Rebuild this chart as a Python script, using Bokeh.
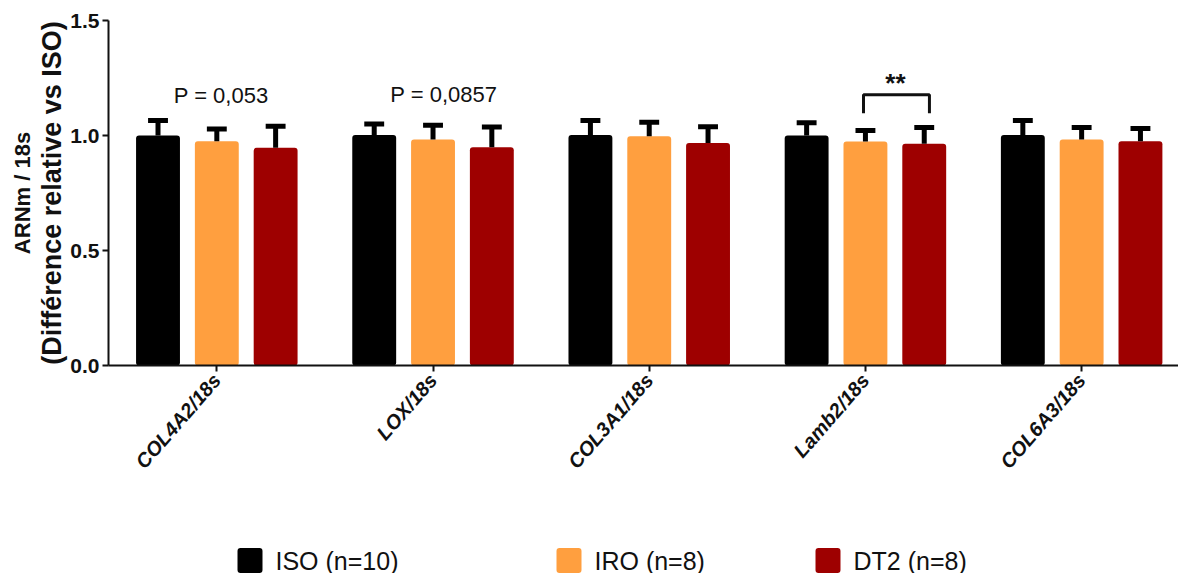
import math
from bokeh.plotting import figure
from bokeh.layouts import column
from bokeh.models import ColumnDataSource, FixedTicker, LinearAxis, Range1d
from bokeh.core.properties import value
from bokeh.embed import file_html
from bokeh.resources import INLINE

# ---------------- data ----------------
categories = ["COL4A2/18s", "LOX/18s", "COL3A1/18s", "Lamb2/18s", "COL6A3/18s"]
groups = ["ISO (n=10)", "IRO (n=8)", "DT2 (n=8)"]
iso_mean = [1.000, 1.002, 1.002, 1.000, 1.002]
iso_upper = [1.065, 1.050, 1.065, 1.055, 1.065]
iro_mean = [0.975, 0.983, 0.997, 0.974, 0.983]
iro_upper = [1.028, 1.045, 1.058, 1.022, 1.035]
dt2_mean = [0.947, 0.949, 0.967, 0.964, 0.975]
dt2_upper = [1.040, 1.037, 1.038, 1.035, 1.030]
colors = ["#000000", "#FF9F3F", "#9E0000"]
y_ticks = [0.0, 0.5, 1.0, 1.5]
p_texts = ["P = 0,053", "P = 0,0857"]
p_cats = [0, 1]
star_text = "**"
star_cat = 3

# ---------------- layout / style ----------------
FONT = "Liberation Sans"
INK = "#111111"
offsets = [-0.272, 0.0, 0.272]
bar_w = 0.203
cap_half = 0.046
W = 1178
LEFT = 108
MAIN_H = 523
LEG_H = 50

p = figure(width=W, height=MAIN_H, output_backend="svg", toolbar_location=None,
           x_range=Range1d(-0.501, 4.448), y_range=Range1d(0, 1.5),
           min_border_left=LEFT, min_border_right=0, min_border_top=20,
           min_border_bottom=MAIN_H - 365)
p.outline_line_color = None
p.xgrid.grid_line_color = None
p.ygrid.grid_line_color = None

means = [iso_mean, iro_mean, dt2_mean]
uppers = [iso_upper, iro_upper, dt2_upper]
for m, u, c, off in zip(means, uppers, colors, offsets):
    xs = [i + off for i in range(len(categories))]
    src = ColumnDataSource(dict(x=xs, top=m, upper=u,
                                xl=[x - cap_half for x in xs],
                                xr=[x + cap_half for x in xs]))
    p.vbar(x="x", top="top", width=bar_w, bottom=0, source=src,
           fill_color=c, line_color=None, border_radius=3)
    p.segment(x0="x", y0="top", x1="x", y1="upper", source=src,
              line_color="black", line_width=5, line_cap="butt")
    p.segment(x0="xl", y0="upper", x1="xr", y1="upper", source=src,
              line_color="black", line_width=5, line_cap="butt")

# P-value annotations
p_src = ColumnDataSource(dict(x=[p_cats[0] + 0.02, p_cats[1] + 0.05],
                              y=[1.174, 1.178], t=p_texts))
p.text(x="x", y="y", text="t", source=p_src, text_align="center",
       text_baseline="middle", text_font=value(FONT),
       text_font_size="22px", text_color=INK)

# significance bracket
bl = star_cat - 0.009
br = star_cat + 0.296
p.line(x=[bl, bl, br, br], y=[1.097, 1.177, 1.177, 1.097],
       line_color=INK, line_width=3)
p.text(x=[star_cat + 0.139], y=[1.228], text=[star_text], text_align="center",
       text_baseline="middle", text_font=value(FONT),
       text_font_size="26px", text_font_style="bold", text_color=INK)

# axes
p.yaxis.ticker = FixedTicker(ticks=y_ticks)
p.yaxis.major_label_overrides = {t: f"{t:.1f}" for t in y_ticks}
p.xaxis.ticker = FixedTicker(ticks=list(range(len(categories))))
p.xaxis.major_label_overrides = {i: c for i, c in enumerate(categories)}
p.xaxis.major_label_orientation = math.radians(49)

for ax in (p.xaxis, p.yaxis):
    ax.axis_line_width = 2
    ax.axis_line_color = INK
    ax.major_tick_line_width = 2
    ax.major_tick_line_color = INK
    ax.major_tick_in = 0
    ax.major_tick_out = 6
    ax.minor_tick_line_color = None
    ax.major_label_text_font = FONT
    ax.major_label_text_font_style = "bold"
    ax.major_label_text_color = INK

p.yaxis.major_label_text_font_size = "21px"
p.yaxis.major_label_standoff = 3
p.xaxis.major_label_text_font_size = "20px"
p.xaxis.major_label_text_font_style = "bold italic"
p.xaxis.major_label_standoff = 5

p.yaxis.axis_label = "(Différence relative vs ISO)"
p.yaxis.axis_label_text_font = FONT
p.yaxis.axis_label_text_font_style = "bold"
p.yaxis.axis_label_text_font_size = "27px"
p.yaxis.axis_label_text_color = INK
p.yaxis.axis_label_standoff = 0

outer = LinearAxis(ticker=FixedTicker(ticks=[]), axis_label="ARNm / 18s",
                   axis_line_color=None, major_tick_line_color=None,
                   minor_tick_line_color=None, axis_label_standoff=0,
                   axis_label_text_font=FONT, axis_label_text_font_style="bold",
                   axis_label_text_font_size="22px", axis_label_text_color=INK)
p.add_layout(outer, "left")

# ---------------- legend (separate strip below the chart) ----------------
# the column layout aligns this strip's frame with the chart frame (starts at LEFT),
# so its x range is expressed directly in window pixels
leg_x = [237, 556, 815]
box = 25
lg = figure(width=W, height=LEG_H, output_backend="svg", toolbar_location=None,
            x_range=Range1d(LEFT, W), y_range=Range1d(0, LEG_H),
            x_axis_location=None, y_axis_location=None,
            min_border=0, outline_line_color=None)
lg.grid.visible = False
lsrc = ColumnDataSource(dict(x=[v + box / 2 for v in leg_x], y=[13] * 3,
                             tx=[v + box + 13 for v in leg_x],
                             c=colors, t=groups))
lg.rect(x="x", y="y", width=box, height=box, width_units="screen",
        height_units="screen", fill_color="c", line_color=None,
        border_radius=3, source=lsrc)
lg.text(x="tx", y="y", text="t", source=lsrc, text_align="left",
        text_baseline="middle", text_font=value(FONT), text_font_size="25px",
        text_color=INK)

layout = column(p, lg, spacing=0)
open("out.html", "w").write(file_html(layout, INLINE))
